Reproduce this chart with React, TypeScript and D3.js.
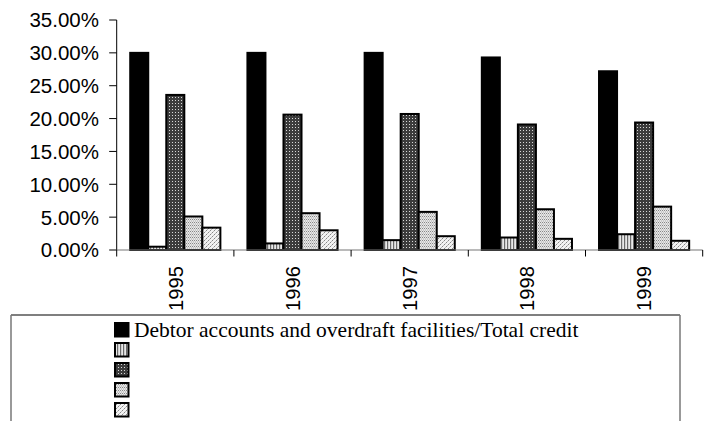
import React from "react";
import * as d3 from "d3";

// Credit structure ratios by year
const years = ["1995", "1996", "1997", "1998", "1999"];
const seriesNames = [
  "Debtor accounts and overdraft facilities/Total credit",
  "",
  "",
  "",
  "",
];
const debtorOverdraft = [0.3, 0.3, 0.3, 0.293, 0.272];
const seriesB = [0.005, 0.01, 0.015, 0.019, 0.024];
const seriesC = [0.236, 0.206, 0.207, 0.191, 0.194];
const seriesD = [0.051, 0.056, 0.058, 0.062, 0.066];
const seriesE = [0.034, 0.03, 0.021, 0.017, 0.014];
const yTicks = [0, 0.05, 0.1, 0.15, 0.2, 0.25, 0.3, 0.35];

const allSeries = [debtorOverdraft, seriesB, seriesC, seriesD, seriesE];
const fills = ["#000", "url(#pVert)", "url(#pDark)", "url(#pLight)", "url(#pDots)"];

const W = 705;
const H = 421;
const plot = { left: 116.7, right: 702.7, top: 20, bottom: 250 };
const sans = "Liberation Sans, Arial, sans-serif";
const serif = "Liberation Serif, Times New Roman, DejaVu Serif, serif";

export default function App() {
  const x = d3
    .scaleBand<string>()
    .domain(years)
    .range([plot.left, plot.right])
    .padding(0);
  const bw = x.bandwidth();
  const barW = bw / 6.5;
  const gap = barW * 0.75;
  const xs = d3
    .scaleBand<number>()
    .domain(d3.range(allSeries.length))
    .range([gap, bw - gap])
    .padding(0);
  const y = d3.scaleLinear().domain([0, 0.35]).range([plot.bottom, plot.top]);
  const fmt = d3.format(".2%");

  const boundaries = years.map((yr) => x(yr)!).concat([plot.right]);

  const legendX = 114;
  const legendY0 = 322;
  const legendStep = 20;

  return (
    <svg
      width={W}
      height={H}
      style={{ position: "absolute", left: 0, top: 0, background: "#fff" }}
    >
      <defs>
        <pattern id="pVert" width="3" height="3" patternUnits="userSpaceOnUse">
          <rect width="3" height="3" fill="#e8e8e8" />
          <rect x="0" width="1.2" height="3" fill="#6a6a6a" />
        </pattern>
        <pattern id="pDark" width="3" height="3" patternUnits="userSpaceOnUse">
          <rect width="3" height="3" fill="#3c3c3c" />
          <rect x="1" y="1" width="1" height="1" fill="#d8d8d8" />
        </pattern>
        <pattern id="pLight" width="2" height="3" patternUnits="userSpaceOnUse">
          <rect width="2" height="3" fill="#e6e6e6" />
          <rect x="0" y="0" width="1" height="1" fill="#888" />
          <rect x="1" y="1.5" width="1" height="1" fill="#aaa" />
        </pattern>
        <pattern id="pDots" width="4" height="4" patternUnits="userSpaceOnUse">
          <rect width="4" height="4" fill="#f2f2f2" />
          <rect x="0" y="0" width="1" height="1" fill="#888" />
          <rect x="2" y="2" width="1" height="1" fill="#888" />
          <rect x="1" y="3" width="1" height="1" fill="#bbb" />
          <rect x="3" y="1" width="1" height="1" fill="#bbb" />
        </pattern>
      </defs>

      {/* bars */}
      {years.map((yr, i) => (
        <g key={yr}>
          {allSeries.map((s, k) => {
            const v = s[i];
            return (
              <rect
                key={k}
                x={x(yr)! + xs(k)!}
                y={y(v)}
                width={xs.bandwidth()}
                height={plot.bottom - y(v)}
                fill={fills[k]}
                stroke="#000"
                strokeWidth={2}
              />
            );
          })}
        </g>
      ))}

      {/* y axis */}
      <line
        x1={plot.left}
        x2={plot.left}
        y1={plot.top}
        y2={plot.bottom}
        stroke="#000"
        strokeWidth={1}
      />
      {yTicks.map((t) => (
        <g key={t}>
          <line
            x1={plot.left - 7.5}
            x2={plot.left}
            y1={y(t)}
            y2={y(t)}
            stroke="#000"
            strokeWidth={1}
          />
          <text
            x={99}
            y={y(t)}
            dy="0.36em"
            textAnchor="end"
            style={{ fontFamily: sans, fontSize: "20.5px" }}
            fill="#000"
          >
            {fmt(t)}
          </text>
        </g>
      ))}

      {/* x axis */}
      <line
        x1={plot.left}
        x2={plot.right}
        y1={plot.bottom}
        y2={plot.bottom}
        stroke="#777"
        strokeWidth={1.2}
      />
      {boundaries.map((bx, i) => (
        <line
          key={i}
          x1={bx}
          x2={bx}
          y1={plot.bottom}
          y2={plot.bottom + 6.5}
          stroke="#000"
          strokeWidth={1}
        />
      ))}
      {years.map((yr) => {
        const cx = x(yr)! + bw / 2;
        const ty = 266;
        return (
          <text
            key={yr}
            transform={`translate(${cx},${ty}) rotate(-90)`}
            dy="0.36em"
            textAnchor="end"
            style={{ fontFamily: sans, fontSize: "20.2px" }}
            fill="#000"
          >
            {yr}
          </text>
        );
      })}

      {/* legend */}
      <line x1={11} x2={680} y1={315} y2={315} stroke="#000" strokeWidth={1.2} />
      <line x1={11} x2={11} y1={315} y2={H} stroke="#777" strokeWidth={1.5} />
      <line x1={680} x2={680} y1={315} y2={H} stroke="#777" strokeWidth={1.5} />
      {seriesNames.map((name, k) => {
        const ry = legendY0 + k * legendStep;
        return (
          <g key={k}>
            <rect
              x={legendX + 1}
              y={ry + 1}
              width={13.5}
              height={13.5}
              fill={fills[k]}
              stroke="#000"
              strokeWidth={2}
            />
            {name && (
              <text
                x={134}
                y={ry + 15}
                style={{ fontFamily: serif, fontSize: "21.5px" }}
                fill="#000"
              >
                {name}
              </text>
            )}
          </g>
        );
      })}
    </svg>
  );
}
